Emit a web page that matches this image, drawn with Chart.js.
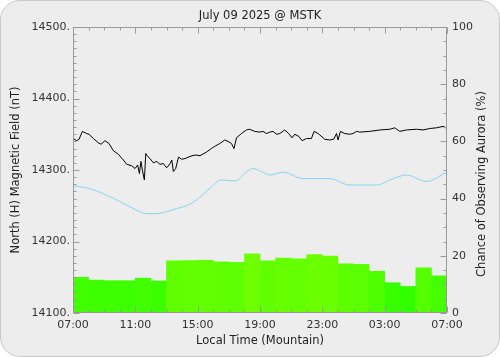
<!DOCTYPE html>
<html>
<head>
<meta charset="utf-8">
<script src="https://cdn.jsdelivr.net/npm/chart.js@4/dist/chart.umd.min.js"></script>
<style>
  html, body { margin: 0; padding: 0; background: #ffffff; }
  #wrap { position: relative; width: 500px; height: 357px; }
  #box { position: absolute; left: 0; top: 0; width: 498px; height: 355px; border: 1px solid #c8c8c8; border-radius: 20px; background: #ededed; }
  canvas { position: absolute; left: 0; top: 0; }
</style>
</head>
<body>
<div id="wrap"><div id="box"></div><canvas id="c" width="500" height="357"></canvas></div>
<script>
// ---- data (x = hours since 07:00 local) ----
const chartTitle = 'July 09 2025 @ MSTK';
const xTickHours = [0, 4, 8, 12, 16, 20, 24];
const xTickLabels = ['07:00', '11:00', '15:00', '19:00', '23:00', '03:00', '07:00'];
const leftTicks = [14100, 14200, 14300, 14400, 14500];
const rightTicks = [0, 20, 40, 60, 80, 100];

const magTimes = [0.00,0.24,0.39,0.60,0.88,1.03,1.31,1.63,1.80,2.05,2.31,2.59,2.91,3.23,3.45,3.77,3.98,4.15,4.26,4.36,4.45,4.58,4.67,4.79,4.94,5.16,5.37,5.58,5.80,6.01,6.23,6.34,6.44,6.59,6.77,6.98,7.19,7.51,7.83,8.15,8.56,8.88,9.09,9.42,9.74,9.95,10.17,10.33,10.49,10.81,11.13,11.34,11.66,11.98,12.20,12.41,12.63,12.84,13.06,13.27,13.59,13.84,14.06,14.23,14.49,14.70,14.98,15.30,15.47,15.73,16.05,16.16,16.48,16.73,16.91,17.01,17.16,17.44,17.76,17.97,18.19,18.40,19.04,19.69,20.33,20.65,20.97,21.40,22.04,22.46,22.89,23.32,23.75,24.00];
const magValues = [14344,14341,14343,14354,14351,14350,14344,14338,14336,14341,14337,14327,14322,14314,14308,14306,14302,14307,14295,14312,14300,14286,14323,14319,14316,14310,14312,14308,14309,14303,14309,14314,14298,14302,14318,14315,14316,14319,14321,14320,14325,14330,14333,14337,14342,14340,14337,14330,14345,14351,14356,14357,14354,14353,14354,14351,14353,14354,14350,14351,14356,14351,14345,14350,14347,14341,14344,14344,14354,14351,14345,14343,14342,14343,14351,14342,14354,14351,14350,14351,14354,14353,14354,14356,14357,14359,14354,14356,14357,14356,14358,14359,14361,14358];

const quietTimes = [0.00,1.07,1.93,3.00,4.07,4.71,5.35,6.21,6.64,7.28,7.92,8.77,9.52,10.06,10.49,10.91,11.55,12.09,12.63,13.48,14.76,16.48,17.76,19.47,20.54,21.40,22.68,24.00];
const quietValues = [14278,14274,14267,14256,14244,14239,14239,14243,14246,14250,14258,14274,14286,14285,14285,14293,14302,14298,14293,14297,14288,14288,14279,14279,14288,14293,14284,14297];

const auroraHours = [0.5,1.5,2.5,3.5,4.5,5.5,6.5,7.5,8.5,9.5,10.5,11.5,12.5,13.5,14.5,15.5,16.5,17.5,18.5,19.5,20.5,21.5,22.5,23.5];
const auroraChance = [12.5,11.5,11.3,11.3,12.2,11.2,18.2,18.3,18.4,17.9,17.7,20.7,18.2,19.2,18.9,20.4,19.9,17.2,17.0,14.6,10.6,9.3,15.8,13.0];

// ---- build ----
const FONT = 'DejaVu Sans';
const pts = (xs, ys) => xs.map((x, i) => ({ x: x, y: ys[i] }));

function barColor(ctx) {
  const v = ctx.raw ? ctx.raw.y : 15;
  const r = Math.max(0, Math.min(255, Math.round(5.3 * v)));
  return 'rgb(' + r + ',255,0)';
}

const framePlugin = {
  id: 'frame',
  afterDatasetsDraw(chart) {
    const { ctx, chartArea: a, scales } = chart;
    ctx.save();
    ctx.strokeStyle = '#9a9a9a';
    ctx.lineWidth = 1;
    const L = Math.round(a.left) + 0.5, R = Math.round(a.right) - 0.5;
    const T = Math.round(a.top) + 0.5, B = Math.round(a.bottom) - 0.5;
    ctx.strokeRect(L, T, R - L, B - T);
    ctx.beginPath();
    for (let h = 0; h <= 24; h++) {
      const px = Math.round(scales.x.getPixelForValue(h)) + 0.5;
      const len = h % 4 === 0 ? 6 : 3;
      ctx.moveTo(px, B); ctx.lineTo(px, B - len);
      ctx.moveTo(px, T); ctx.lineTo(px, T + len);
    }
    for (let v = 14100; v <= 14500; v += 10) {
      const py = Math.round(scales.y.getPixelForValue(v)) + 0.5;
      const len = v % 100 === 0 ? 6 : 3;
      ctx.moveTo(L, py); ctx.lineTo(L + len, py);
    }
    for (let v = 0; v <= 100; v += 5) {
      const py = Math.round(scales.y2.getPixelForValue(v)) + 0.5;
      const len = v % 20 === 0 ? 6 : 3;
      ctx.moveTo(R, py); ctx.lineTo(R - len, py);
    }
    ctx.stroke();
    // right-axis title (reads bottom to top)
    ctx.fillStyle = '#222';
    ctx.font = '11.5px "' + FONT + '"';
    ctx.textAlign = 'center';
    ctx.textBaseline = 'middle';
    ctx.translate(482, 184);
    ctx.rotate(-Math.PI / 2);
    ctx.fillText('Chance of Observing Aurora (%)', 0, 0);
    ctx.restore();
  }
};

new Chart(document.getElementById('c'), {
  type: 'bar',
  data: {
    datasets: [
      { type: 'line', label: 'H', data: pts(magTimes, magValues), xAxisID: 'x', yAxisID: 'y',
        borderColor: '#000000', borderWidth: 1, pointRadius: 0, tension: 0, order: 0 },
      { type: 'line', label: 'quiet', data: pts(quietTimes, quietValues), xAxisID: 'x', yAxisID: 'y',
        borderColor: '#86d3ee', borderWidth: 1, pointRadius: 0, tension: 0.4, cubicInterpolationMode: 'monotone', order: 0 },
      { type: 'bar', label: 'aurora', data: pts(auroraHours, auroraChance), xAxisID: 'x', yAxisID: 'y2',
        backgroundColor: barColor, borderWidth: 0,
        barPercentage: 1, categoryPercentage: 1, grouped: false, order: 1 }
    ]
  },
  options: {
    responsive: false,
    animation: false,
    devicePixelRatio: 1,
    layout: { padding: 0 },
    plugins: {
      legend: { display: false },
      tooltip: { enabled: false },
      title: { display: true, text: chartTitle, fullSize: false, color: '#222',
        font: { family: FONT, size: 11.5, weight: 'normal' }, padding: { top: 9, bottom: 4.2 } }
    },
    scales: {
      x: {
        type: 'linear', position: 'bottom', min: 0, max: 24, offset: false,
        afterFit(s) { s.height = 44; },
        afterBuildTicks(s) { s.ticks = xTickHours.map(v => ({ value: v })); },
        ticks: { autoSkip: false, maxRotation: 0, padding: 6, color: '#333',
          font: { family: FONT, size: 11 },
          callback: (v) => xTickLabels[xTickHours.indexOf(v)] },
        grid: { display: false, drawTicks: false },
        border: { display: false },
        title: { display: true, text: 'Local Time (Mountain)', color: '#222',
          font: { family: FONT, size: 11.5 }, padding: { top: 0, bottom: 9 } }
      },
      y: {
        type: 'linear', position: 'left', min: 14100, max: 14500,
        afterFit(s) { s.width = 73; },
        afterBuildTicks(s) { s.ticks = leftTicks.map(v => ({ value: v })); },
        ticks: { padding: 3, color: '#333', font: { family: FONT, size: 11 }, callback: (v) => v + '.' },
        grid: { display: false, drawTicks: false },
        border: { display: false },
        title: { display: true, text: 'North (H) Magnetic Field (nT)', color: '#222',
          font: { family: FONT, size: 11.5 }, padding: { top: 9.5, bottom: 0 } }
      },
      y2: {
        type: 'linear', position: 'right', min: 0, max: 100,
        afterFit(s) { s.width = 53; },
        afterBuildTicks(s) { s.ticks = rightTicks.map(v => ({ value: v })); },
        ticks: { padding: 5, color: '#333', font: { family: FONT, size: 11 } },
        grid: { display: false, drawTicks: false },
        border: { display: false }
      }
    }
  },
  plugins: [framePlugin]
});
</script>
</body>
</html>
